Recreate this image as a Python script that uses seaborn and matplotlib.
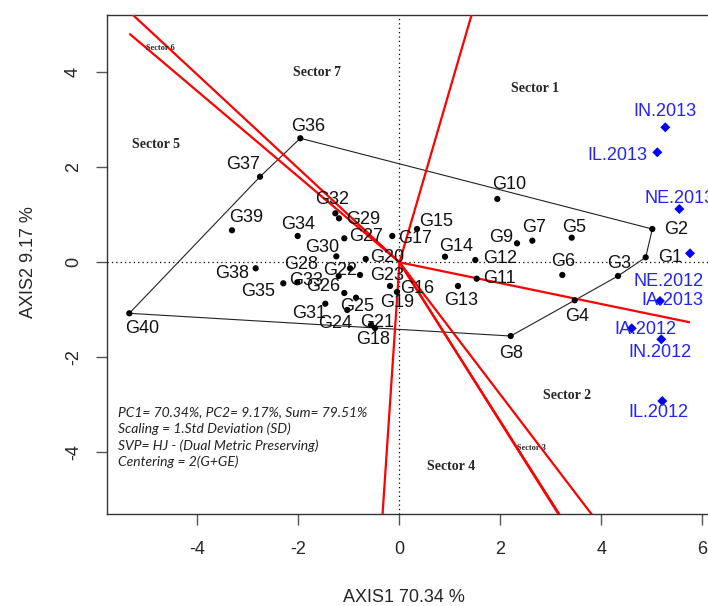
import numpy as np
import pandas as pd
import matplotlib
matplotlib.use("Agg")
import matplotlib.pyplot as plt
import seaborn as sns

# ---- biplot scores -------------------------------------------------------
genotypes = [f"G{i}" for i in range(1, 41)]
gen_axis1 = [4.875, 5.006, 4.327, 3.469, 3.410, 3.224, 2.630, 2.202, 2.327, 1.937,
             1.529, 1.501, 1.158, 0.901, 0.347, -0.188, -0.143, -0.485, -0.050, -0.669,
             -0.564, -1.204, -0.782, -1.034, -0.861, -1.093, -1.093, -0.980, -1.198, -1.251,
             -1.469, -1.271, -2.024, -2.016, -2.301, -1.964, -2.762, -2.848, -3.317, -5.350]
gen_axis2 = [0.105, 0.701, -0.288, -0.800, 0.518, -0.267, 0.455, -1.552, 0.400, 1.333,
             -0.345, 0.048, -0.499, 0.118, 0.701, -0.499, 0.554, -1.383, -0.625, 0.069,
             -1.320, -0.288, -0.267, -1.004, -0.745, -0.646, 0.505, -0.126, 0.926, 0.126,
             -0.872, 1.032, -0.421, 0.554, -0.442, 2.611, 1.802, -0.126, 0.674, -1.074]

environments = ["IN.2013", "IL.2013", "NE.2013", "NE.2012",
                "IA.2013", "IA.2012", "IN.2012", "IL.2012"]
env_axis1 = [5.263, 5.105, 5.541, 5.752, 5.158, 4.598, 5.184, 5.204]
env_axis2 = [2.842, 2.316, 1.122, 0.189, -0.815, -1.389, -1.621, -2.920]

# vertex genotypes of the which-won-where polygon, in drawing order
polygon_vertices = ["G36", "G2", "G1", "G3", "G4", "G8", "G40", "G37"]

sector_names = ["Sector 1", "Sector 2", "Sector 3", "Sector 4",
                "Sector 5", "Sector 6", "Sector 7"]
sector_axis1 = [2.68, 3.32, 2.62, 1.02, -4.82, -4.74, -1.63]
sector_axis2 = [3.65, -2.81, -3.91, -4.29, 2.47, 4.51, 3.99]
sector_sizes = [10, 10, 6, 10, 10, 6, 10]

x_ticks = [-4, -2, 0, 2, 4, 6]
y_ticks = [-4, -2, 0, 2, 4]
x_title = "AXIS1 70.34 %"
y_title = "AXIS2 9.17 %"
summary_lines = ["PC1= 70.34%, PC2= 9.17%, Sum= 79.51%",
                 "Scaling = 1.Std Deviation (SD)",
                 "SVP= HJ - (Dual Metric Preserving)",
                 "Centering = 2(G+GE)"]

# label placement: offsets in pixels from each point (right, up)
gen_label_offsets = {
    "G1": (24, 0), "G2": (24, 0), "G3": (1, 12), "G4": (2, -16), "G5": (2, 10),
    "G6": (1, 13), "G7": (2, 13), "G8": (0, -17), "G9": (-16, 6), "G10": (12, 14),
    "G11": (23, 0), "G12": (25, 2), "G13": (3, -14), "G14": (11, 10), "G15": (19, 8),
    "G16": (27, -2), "G17": (23, -3), "G18": (-2, -12), "G19": (0, -11), "G20": (21, 2),
    "G21": (6, 2), "G22": (1, 5), "G23": (27, -1), "G24": (-12, -14), "G25": (1, -9),
    "G26": (-21, 6), "G27": (22, 2), "G28": (-49, 4), "G29": (24, -1), "G30": (-14, 9),
    "G31": (-16, -10), "G32": (-3, 14), "G33": (9, 2), "G34": (0, 11), "G35": (-25, -8),
    "G36": (8, 12), "G37": (-17, 12), "G38": (-24, -5), "G39": (14, 13), "G40": (13, -15),
}
env_label_offsets = {
    "IN.2013": (0, 16), "IL.2013": (-40, -3), "NE.2013": (0, 11), "NE.2012": (-21, -28),
    "IA.2013": (12, 1), "IA.2012": (14, -1), "IN.2012": (-1, -13), "IL.2012": (-4, -12),
}

# ---- figure --------------------------------------------------------------
sns.set_style("white")
plt.rcParams["font.family"] = ["Liberation Sans", "DejaVu Sans"]
plt.rcParams["axes.unicode_minus"] = False

W, H = 708, 606
fig = plt.figure(figsize=(W / 100, H / 100), dpi=100)
left, right, top, bottom = 106.7, 712.0, 14.7, 513.7
ax = fig.add_axes([left / W, (H - bottom) / H, (right - left) / W, (bottom - top) / H])

gen = pd.DataFrame({"name": genotypes, "AXIS1": gen_axis1, "AXIS2": gen_axis2})
env = pd.DataFrame({"name": environments, "AXIS1": env_axis1, "AXIS2": env_axis2})

# reference lines through the origin
ax.axhline(0, color="black", lw=0.9, ls=(0, (1, 2.5)), zorder=1)
ax.axvline(0, color="black", lw=0.9, ls=(0, (1, 2.5)), zorder=1)

# convex polygon joining the vertex genotypes
g_idx = gen.set_index("name")
poly = g_idx.loc[polygon_vertices + polygon_vertices[:1]]
ax.plot(poly["AXIS1"], poly["AXIS2"], color="#222222", lw=0.8, zorder=2)

# sector rays: perpendicular from the origin to each polygon side,
# extended until they reach the horizontal range of the scores
x_all = np.concatenate([gen["AXIS1"].to_numpy(), env["AXIS1"].to_numpy()])
verts = g_idx.loc[polygon_vertices, ["AXIS1", "AXIS2"]].to_numpy()
for a, b in zip(verts, np.roll(verts, -1, axis=0)):
    d = b - a
    n = np.array([-d[1], d[0]])
    if n @ ((a + b) / 2) < 0:
        n = -n
    lim = x_all.max() if n[0] > 0 else x_all.min()
    end = n * (lim / n[0])
    ax.plot([0, end[0]], [0, end[1]], color="red", lw=1.6, zorder=3,
            solid_capstyle="butt")

sns.scatterplot(data=gen, x="AXIS1", y="AXIS2", color="black", s=20,
                edgecolor="none", ax=ax, zorder=5, legend=False)
sns.scatterplot(data=env, x="AXIS1", y="AXIS2", color="blue", marker="D", s=26,
                edgecolor="none", ax=ax, zorder=5, legend=False)

for _, r in gen.iterrows():
    ax.annotate(r["name"], (r["AXIS1"], r["AXIS2"]), xytext=gen_label_offsets[r["name"]],
                textcoords="offset pixels", ha="center", va="center",
                fontsize=13, color="#111111", zorder=6)
for _, r in env.iterrows():
    ax.annotate(r["name"], (r["AXIS1"], r["AXIS2"]), xytext=env_label_offsets[r["name"]],
                textcoords="offset pixels", ha="center", va="center",
                fontsize=13, color="#2222ff", zorder=6, annotation_clip=False)

for name, sx, sy, fs in zip(sector_names, sector_axis1, sector_axis2, sector_sizes):
    ax.text(sx, sy, name, ha="center", va="center", fontsize=fs,
            fontweight="bold", family=["Liberation Serif", "DejaVu Serif"], zorder=6)

ax.text(0.0187, 0.153, "\n".join(summary_lines), transform=ax.transAxes,
        ha="left", va="center", fontsize=10, style="italic",
        family=["Lato", "DejaVu Sans"], color="#222222", linespacing=1.38, zorder=6)

ax.set_xlim((left - 399.5) / 50.5, (right - 399.5) / 50.5)
ax.set_ylim((262.3 - bottom) / 47.5, (262.3 - top) / 47.5)
ax.set_xticks(x_ticks)
ax.set_yticks(y_ticks)
ax.tick_params(direction="out", length=8, width=1, color="#555555",
               pad=12, labelsize=13, bottom=True, left=True)
for lab in ax.get_yticklabels():
    lab.set_rotation(90)
    lab.set_va("center")
    lab.set_ha("center")
ax.tick_params(axis="y", pad=16)

for sp in ax.spines.values():
    sp.set_color("#333333")
    sp.set_linewidth(1.0)

ax.set_xlabel(x_title, fontsize=13)
ax.set_ylabel(y_title, fontsize=13)
ax.xaxis.label.set_va("center")
ax.yaxis.label.set_va("center")
ax.xaxis.set_label_coords((404 - left) / (right - left), (bottom - 598) / (bottom - top))
ax.yaxis.set_label_coords((28 - left) / (right - left), (bottom - 262) / (bottom - top))

fig.savefig("out.png", dpi=100)
